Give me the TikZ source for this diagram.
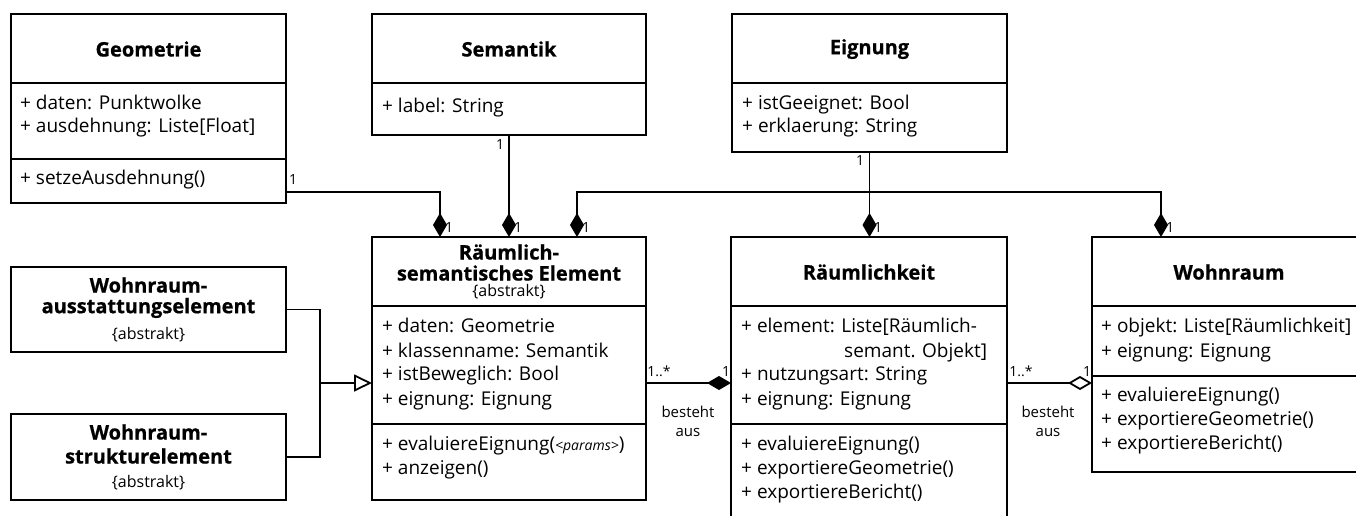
\documentclass[tikz,border=0pt]{standalone}
\usepackage{fontspec}
\setmainfont{Open Sans}
\newfontfamily\heavyfont{Open Sans}[BoldFeatures={FakeBold=0.7}]
\usetikzlibrary{arrows.meta,calc}

\tikzset{
  box/.style={draw, line width=1.8pt, rectangle, anchor=north west, inner sep=0pt, outer sep=0pt},
  ttl/.style={font=\fontsize{20}{23}\selectfont\heavyfont\bfseries, inner sep=0pt},
  txt/.style={font=\fontsize{19}{22}\selectfont, inner sep=0pt, anchor=mid west},
  abstr/.style={font=\fontsize{16}{18}\selectfont, inner sep=0pt},
  mult/.style={font=\fontsize{14}{16}\selectfont, inner sep=0pt},
  role/.style={font=\fontsize{15}{19}\selectfont, inner sep=0pt},
  sep/.style={line width=1.8pt},
  conn/.style={line width=1.8pt},
  comp/.style={conn, -{Diamond[length=24pt,width=14pt]}},
  aggr/.style={conn, -{Diamond[open,length=24pt,width=14pt]}},
  gen/.style={conn, -{Triangle[open,length=18pt,width=17pt]}},
}

\begin{document}
\begin{tikzpicture}[x=1pt,y=-1pt]
\useasboundingbox (0,0) rectangle (1356,516);

% ---------- Geometrie ----------
\node[box, minimum width=275pt, minimum height=189pt] (geo) at (11,14) {};
\draw[sep] (11,83) -- (286,83);
\draw[sep] (11,159) -- (286,159);
\node[ttl] (geo-t) at (148.5,49) {Geometrie};
\node[txt] (geo-a1) at (20,107) {+ daten: Punktwolke};
\node[txt] (geo-a2) at (20,130) {+ ausdehnung: Liste[Float]};
\node[txt] (geo-o1) at (20,182) {+ setzeAusdehnung()};

% ---------- Semantik ----------
\node[box, minimum width=274pt, minimum height=121pt] (sem) at (372,14) {};
\draw[sep] (372,83) -- (646,83);
\node[ttl] (sem-t) at (509,49) {Semantik};
\node[txt] (sem-a1) at (382,110) {+ label: String};

% ---------- Eignung ----------
\node[box, minimum width=275pt, minimum height=138pt] (eig) at (732,14) {};
\draw[sep] (732,83) -- (1007,83);
\node[ttl] (eig-t) at (869.5,49) {Eignung};
\node[txt] (eig-a1) at (742,107) {+ istGeeignet: Bool};
\node[txt] (eig-a2) at (742,130) {+ erklaerung: String};

% ---------- Wohnraumausstattungselement ----------
\node[box, minimum width=275pt, minimum height=85pt] (wa) at (11,267) {};
\node[ttl] (wa-t1) at (148.5,285) {Wohnraum-};
\node[ttl] (wa-t2) at (148.5,308) {ausstattungselement};
\node[abstr] (wa-t3) at (148.5,335) {\{abstrakt\}};

% ---------- Wohnraumstrukturelement ----------
\node[box, minimum width=275pt, minimum height=86pt] (ws) at (11,414) {};
\node[ttl] (ws-t1) at (148.5,432) {Wohnraum-};
\node[ttl] (ws-t2) at (148.5,456) {strukturelement};
\node[abstr] (ws-t3) at (148.5,483) {\{abstrakt\}};

% ---------- Raeumlich-semantisches Element ----------
\node[box, minimum width=274pt, minimum height=263pt] (rse) at (372,237) {};
\draw[sep] (372,306) -- (646,306);
\draw[sep] (372,424) -- (646,424);
\node[ttl] (rse-t1) at (509,252) {Räumlich-};
\node[ttl] (rse-t2) at (509,273) {semantisches Element};
\node[abstr] (rse-t3) at (509,292) {\{abstrakt\}};
\node[txt] (rse-a1) at (382,330) {+ daten: Geometrie};
\node[txt] (rse-a2) at (382,355) {+ klassenname: Semantik};
\node[txt] (rse-a3) at (382,378) {+ istBeweglich: Bool};
\node[txt] (rse-a4) at (382,403) {+ eignung: Eignung};
\node[txt] (rse-o1) at (382,448) {+ evaluiereEignung({\fontsize{14}{16}\selectfont\itshape <params>})};
\node[txt] (rse-o2) at (382,472) {+ anzeigen()};

% ---------- Raeumlichkeit ----------
\node[box, minimum width=276pt, minimum height=300pt] (raum) at (731,237) {};
\draw[sep] (731,306) -- (1007,306);
\draw[sep] (731,424) -- (1007,424);
\node[ttl] (raum-t) at (869,272) {Räumlichkeit};
\node[txt] (raum-a1) at (741,330) {+ element: Liste[Räumlich-};
\node[txt] (raum-a1b) at (844,355) {semant. Objekt]};
\node[txt] (raum-a2) at (741,378) {+ nutzungsart: String};
\node[txt] (raum-a3) at (741,403) {+ eignung: Eignung};
\node[txt] (raum-o1) at (741,448) {+ evaluiereEignung()};
\node[txt] (raum-o2) at (741,472) {+ exportiereGeometrie()};
\node[txt] (raum-o3) at (741,496) {+ exportiereBericht()};

% ---------- Wohnraum ----------
\node[box, minimum width=274pt, minimum height=235pt] (wohn) at (1092,237) {};
\draw[sep] (1092,306) -- (1366,306);
\draw[sep] (1092,376) -- (1366,376);
\node[ttl] (wohn-t) at (1229,272) {Wohnraum};
\node[txt] (wohn-a1) at (1101,330) {+ objekt: Liste[Räumlichkeit]};
\node[txt] (wohn-a2) at (1101,355) {+ eignung: Eignung};
\node[txt] (wohn-o1) at (1101,399) {+ evaluiereEignung()};
\node[txt] (wohn-o2) at (1101,423) {+ exportiereGeometrie()};
\node[txt] (wohn-o3) at (1101,447) {+ exportiereBericht()};

% ---------- compositions from the top row ----------
\coordinate (ej) at (eig.south |- 0,192);
\draw[comp] ($(geo.south east)+(0,-11)$) -| ($(rse.north)+(-69,0)$);
\draw[comp] (sem.south) -- (rse.north);
\draw[comp] (eig.south) -- (eig.south |- raum.north);
\draw[comp] (ej) -| ($(rse.north)+(68,0)$);
\draw[comp] (ej) -| ($(wohn.north west)+(69,0)$);

\node[mult] (m-geo) at (293,180) {1};
\node[mult] (m-sem) at (500,145) {1};
\node[mult] (m-eig) at (860,161) {1};
\node[mult] (m-r1) at (449,228) {1};
\node[mult] (m-r2) at (518,228) {1};
\node[mult] (m-r3) at (586,228) {1};
\node[mult] (m-r4) at (878,228) {1};
\node[mult] (m-r5) at (1170,228) {1};

% ---------- generalization ----------
\coordinate (gj) at (320,383);
\draw[conn] (wa.east) -| (gj) |- (ws.east);
\draw[gen] (gj) -- (rse.west |- gj);

% ---------- "besteht aus" associations ----------
\coordinate (ag) at (0,383);
\draw[comp] (rse.east |- ag) -- (raum.west |- ag);
\draw[aggr] (raum.east |- ag) -- (wohn.west |- ag);

\node[mult] (m-a1) at (659,371) {1..*};
\node[mult] (m-a2) at (726,371) {1};
\node[role, align=center] (r-a) at (688,421) {besteht\\aus};
\node[mult] (m-b1) at (1021,371) {1..*};
\node[mult] (m-b2) at (1087,371) {1};
\node[role, align=center] (r-b) at (1048,421) {besteht\\aus};
\end{tikzpicture}
\end{document}
